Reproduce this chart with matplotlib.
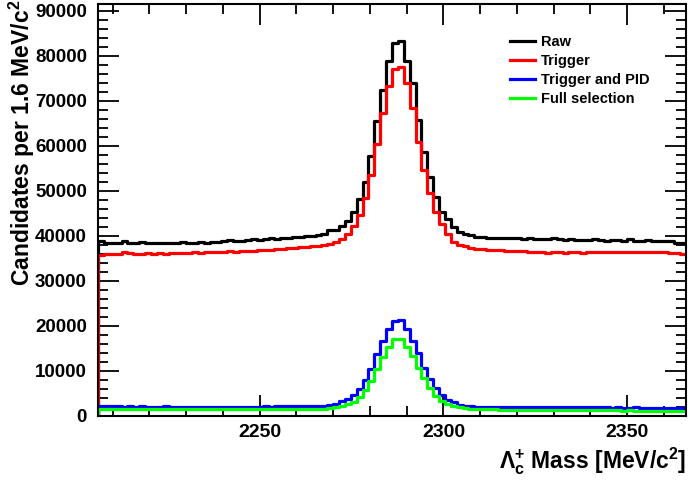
import numpy as np
import matplotlib
matplotlib.use("Agg")
import matplotlib.pyplot as plt
from matplotlib.ticker import MultipleLocator

plt.rcParams['font.family'] = ['Liberation Sans', 'DejaVu Sans']
plt.rcParams['font.weight'] = 'bold'
plt.rcParams['mathtext.fontset'] = 'custom'
plt.rcParams['mathtext.rm'] = 'Liberation Sans:bold'
plt.rcParams['mathtext.it'] = 'Liberation Sans:bold'
plt.rcParams['mathtext.bf'] = 'Liberation Sans:bold'

# Binning: 100 bins of 1.6 MeV from 2206 to 2366
x_min = 2206.0
bin_width = 1.6
n_bins = 100

raw = [38900, 38500, 38400, 38500, 38900, 38500, 38300, 38600, 38400, 38300,
       38400, 38500, 38300, 38500, 38600, 38500, 38500, 38600, 38500, 38600,
       38700, 38900, 39100, 38900, 38900, 39000, 39200, 39100, 39300, 39500,
       39300, 39600, 39600, 39700, 39800, 39900, 40000, 40200, 40500, 41200,
       41300, 42100, 43200, 45300, 48100, 52000, 57800, 65600, 72500, 78900,
       82900, 83200, 78900, 73900, 65700, 58700, 53100, 48700, 45300, 43800,
       42000, 40900, 40500, 40100, 39800, 39700, 39500, 39500, 39600, 39400,
       39500, 39400, 39300, 39400, 39300, 39200, 39300, 39400, 39200, 39100,
       39200, 39000, 39100, 39000, 39200, 39000, 38900, 39100, 39000, 38900,
       39200, 38900, 38800, 39000, 38900, 38800, 38900, 38800, 38500, 38400]

trigger = [35800, 35900, 35900, 36000, 36400, 36100, 35900, 36000, 36100, 36000,
           36100, 36000, 36100, 36200, 36100, 36200, 36300, 36200, 36300, 36400,
           36500, 36400, 36600, 36500, 36600, 36700, 36700, 36800, 36900, 36900,
           37000, 37100, 37200, 37300, 37400, 37500, 37700, 37800, 38000, 38200,
           38600, 39200, 40300, 42100, 44700, 48400, 53500, 60500, 67200, 73300,
           77000, 77500, 73900, 68400, 60900, 54600, 49400, 45300, 42700, 40500,
           38700, 38000, 37700, 37300, 37100, 37000, 36900, 36800, 36800, 36700,
           36700, 36600, 36600, 36500, 36500, 36400, 36200, 36300, 36300, 36200,
           36300, 36400, 36200, 36300, 36400, 36300, 36500, 36400, 36500, 36400,
           36500, 36400, 36500, 36400, 36500, 36400, 36300, 36200, 36100, 36000]

trigger_pid = [2250, 2100, 2050, 2100, 2000, 2050, 2000, 2050, 2000, 1950,
               2000, 2050, 2000, 1950, 2000, 2000, 1950, 2000, 2000, 1950,
               2000, 1950, 2000, 2000, 1950, 2000, 2000, 2000, 2050, 2000,
               2050, 2050, 2100, 2050, 2100, 2100, 2150, 2150, 2200, 2350,
               2600, 3200, 3650, 4600, 5950, 7950, 10400, 13700, 16700, 19300,
               21000, 21200, 19300, 16700, 13900, 10700, 8150, 6150, 4600, 3550,
               2950, 2450, 2150, 2050, 2000, 2000, 1950, 2000, 1950, 1950,
               1950, 1900, 1950, 1900, 1900, 1950, 1900, 1900, 1850, 1900,
               1850, 1900, 1850, 1850, 1850, 1900, 1850, 1800, 1850, 1800,
               1800, 1850, 1800, 1800, 1800, 1750, 1800, 1750, 1750, 1750]

full_selection = [1500, 1450, 1450, 1450, 1400, 1450, 1400, 1450, 1400, 1400,
                  1400, 1450, 1400, 1400, 1400, 1400, 1400, 1400, 1400, 1400,
                  1400, 1400, 1400, 1400, 1400, 1400, 1400, 1450, 1400, 1450,
                  1450, 1450, 1450, 1500, 1500, 1500, 1550, 1550, 1600, 1700,
                  1850, 2150, 2600, 3100, 4200, 5700, 7800, 10400, 13000, 15200,
                  17000, 17100, 15200, 13300, 10700, 8400, 6150, 4450, 3350, 2600,
                  2150, 1850, 1650, 1500, 1450, 1400, 1400, 1400, 1350, 1350,
                  1350, 1350, 1300, 1300, 1300, 1300, 1300, 1250, 1300, 1250,
                  1250, 1250, 1250, 1200, 1250, 1200, 1200, 1200, 1200, 1150,
                  1200, 1150, 1150, 1150, 1150, 1100, 1100, 1100, 1050, 1050]

series = [("Raw", raw, "#000000"),
          ("Trigger", trigger, "#ff0000"),
          ("Trigger and PID", trigger_pid, "#0000ff"),
          ("Full selection", full_selection, "#00ff00")]

edges = x_min + bin_width * np.arange(n_bins + 1)

fig = plt.figure(figsize=(6.91, 4.83), dpi=100)
ax = fig.add_axes([98/691, 1 - 415.7/483, (686-98)/691, (415.7-4)/483])

for name, vals, col in series:
    v = np.asarray(vals, dtype=float)
    xs = np.concatenate([[edges[0]], edges])
    ys = np.concatenate([[0.0], v, [v[-1]]])
    ax.step(xs, ys, where='post', color=col, lw=2.3, label=name, clip_on=True)

ax.set_xlim(edges[0], edges[-1])
ax.set_ylim(0, 1.1 * max(raw))

ax.xaxis.set_major_locator(MultipleLocator(50))
ax.xaxis.set_minor_locator(MultipleLocator(10))
ax.yaxis.set_major_locator(MultipleLocator(10000))
ax.yaxis.set_minor_locator(MultipleLocator(2000))
ax.tick_params(which='both', direction='in', top=True, right=True, width=1.3)
ax.tick_params(which='major', length=15, labelsize=13.5, pad=8)
ax.tick_params(which='minor', length=7)
ax.tick_params(axis='x', which='major', pad=6, labelsize=14)
for lab in ax.get_xticklabels() + ax.get_yticklabels():
    lab.set_fontweight('bold')
for sp in ax.spines.values():
    sp.set_linewidth(1.5)

fig.text(22/691, 1 - 0/483, "Candidates per 1.6 MeV/c$^{2}$", rotation=90,
         ha='center', va='top', fontsize=16.5, fontweight='bold')
fig.text(686/691, 1 - 461/483, r"$\Lambda_{c}^{+}$ Mass [MeV/c$^{2}$]",
         ha='right', va='center', fontsize=16.5, fontweight='bold')

leg = ax.legend(loc='upper left', bbox_to_anchor=(406/588, 1 - 25/411.7),
                frameon=False, fontsize=10.5, handlelength=1.7, handletextpad=0.45,
                labelspacing=0.35, borderaxespad=0)
for t in leg.get_texts():
    t.set_fontweight('bold')

fig.savefig("out.png", dpi=100)
